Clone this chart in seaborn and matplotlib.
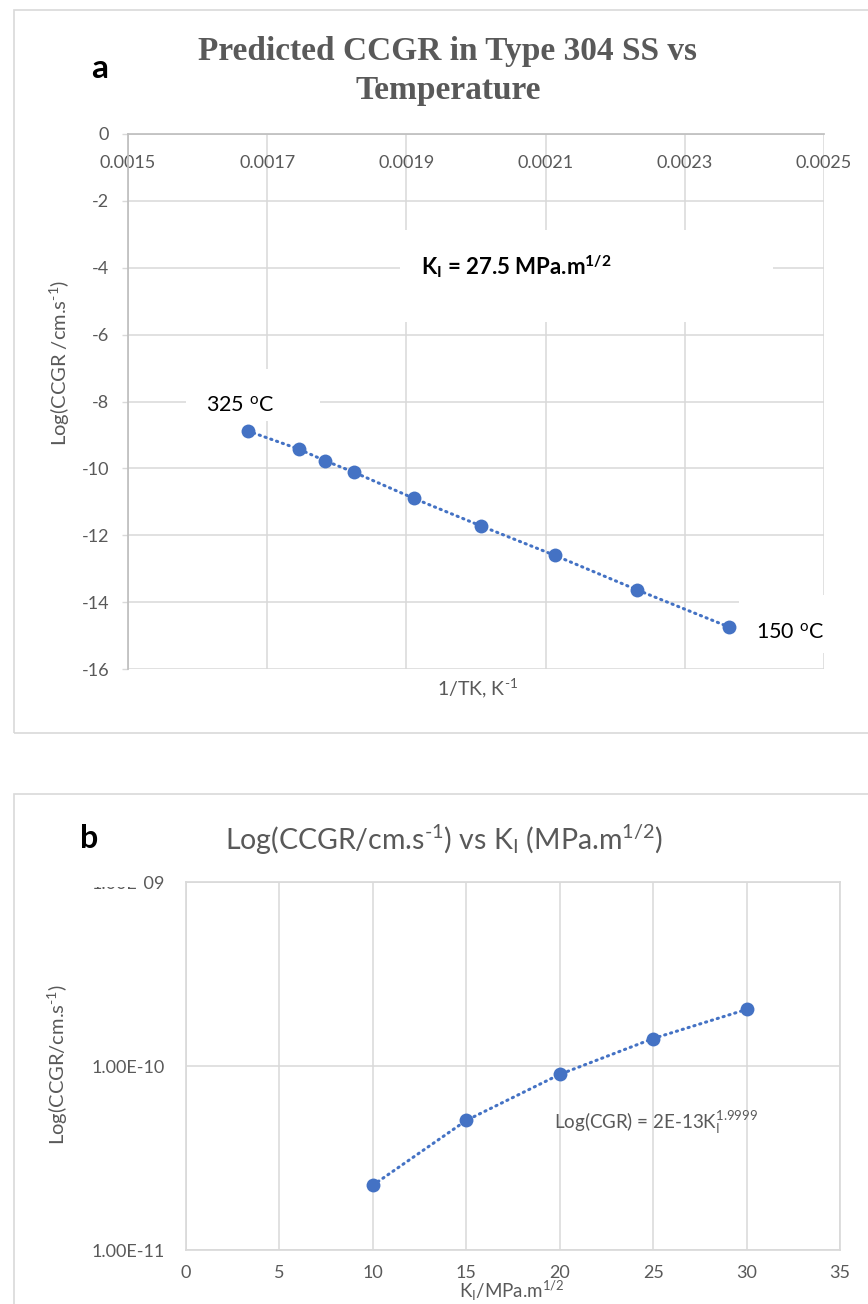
import matplotlib
matplotlib.use("Agg")
import matplotlib.pyplot as plt
import seaborn as sns
from matplotlib.patches import Rectangle
from matplotlib.ticker import FixedLocator, FixedFormatter, NullLocator

# ---- data -------------------------------------------------------------
# (a) predicted CCGR in type 304 SS against reciprocal temperature
inv_temp = [0.001672, 0.001745, 0.001783, 0.001824, 0.001911,
            0.002007, 0.002113, 0.002231, 0.002363]
log_ccgr = [-8.88, -9.42, -9.77, -10.11, -10.90,
            -11.72, -12.60, -13.63, -14.74]
end_labels = ["325 $^{\\mathregular{o}}$C", "150 $^{\\mathregular{o}}$C"]
a_xticks = [0.0015, 0.0017, 0.0019, 0.0021, 0.0023, 0.0025]
a_xticklabels = ["0.0015", "0.0017", "0.0019", "0.0021", "0.0023", "0.0025"]
a_yticks = [0, -2, -4, -6, -8, -10, -12, -14, -16]

# (b) CCGR against stress intensity factor
k_i = [10, 15, 20, 25, 30]
ccgr = [2.25e-11, 5.06e-11, 9.0e-11, 1.41e-10, 2.03e-10]
b_xticks = [0, 5, 10, 15, 20, 25, 30, 35]
b_yticks = [1e-11, 1e-10, 1e-9]
b_yticklabels = ["1.00E-11", "1.00E-10", "1.00E-09"]

# ---- style ------------------------------------------------------------
sns.set_theme(style="white")
plt.rcParams["font.family"] = ["Lato", "DejaVu Sans"]
plt.rcParams["mathtext.fontset"] = "custom"
plt.rcParams["mathtext.rm"] = "Lato"
plt.rcParams["mathtext.it"] = "Lato:italic"
plt.rcParams["mathtext.bf"] = "Lato:bold"
plt.rcParams["axes.unicode_minus"] = False

BLUE = "#4472C4"
GRID = "#d9d9d9"
AXIS = "#bfbfbf"
TXT = "#595959"
TICK_FS = 13

W, H = 868, 1304
fig = plt.figure(figsize=(W / 100, H / 100), dpi=100)
fig.patch.set_facecolor("white")


def fx(px):
    return px / W


def fy(py):
    return 1 - py / H


# chart frames
for top, bottom in [(10, 733), (794, 1320)]:
    fig.patches.append(Rectangle((fx(14), fy(bottom)), fx(870) - fx(14),
                                 fy(top) - fy(bottom), transform=fig.transFigure,
                                 fill=False, edgecolor=GRID, linewidth=1.2, zorder=0))

SUP_M1 = "$^{\\text{-1}}$"

# ---- panel a ------------------------------------------------------------
ax = fig.add_axes([fx(128), fy(669), (824 - 128) / W, (669 - 134) / H])
ax.set_xlim(0.0015, 0.0025)
ax.set_ylim(-16, 0)
sns.lineplot(x=inv_temp, y=log_ccgr, ax=ax, color=BLUE, linewidth=2.2,
             linestyle=(0, (0.4, 1.6)), dash_capstyle="round", sort=False, zorder=2)
sns.scatterplot(x=inv_temp, y=log_ccgr, ax=ax, color=BLUE, s=100,
                linewidth=0, zorder=3)

ax.set_xticks(a_xticks)
ax.set_xticklabels(a_xticklabels)
ax.set_yticks(a_yticks)
ax.set_yticklabels([str(v) for v in a_yticks])
ax.grid(True, color=GRID, linewidth=1.1)
ax.set_axisbelow(True)
for s in ["top", "right"]:
    ax.spines[s].set_visible(False)
ax.spines["bottom"].set_position(("data", 0))
ax.spines["bottom"].set_color(AXIS)
ax.spines["left"].set_color(AXIS)
ax.tick_params(axis="x", length=0, pad=15, labelsize=TICK_FS, labelcolor=TXT)
ax.tick_params(axis="y", length=4.5, width=1, color=GRID, pad=9,
               labelsize=TICK_FS, labelcolor=TXT, left=True)
ax.set_xlabel("")
ax.set_ylabel("")

# label backgrounds that hide the grid behind them
for x0, y0, x1, y1 in [(400, 230, 773, 322), (186, 369, 320, 421), (739, 595, 840, 653)]:
    ax.add_patch(Rectangle((fx(x0), fy(y1)), fx(x1) - fx(x0), fy(y0) - fy(y1),
                           transform=fig.transFigure, facecolor="white",
                           edgecolor="none", zorder=1.5, clip_on=False))

ax.text(0.0020573, -3.95, "K$_{\\mathbf{I}}$ = 27.5 MPa.m$^{\\mathbf{1/2}}$",
        fontsize=16, fontweight="bold", color="black", ha="center", va="center", zorder=4)
ax.text(0.0016605, -8.12, end_labels[0], fontsize=15.5, color="black",
        ha="center", va="center", zorder=4)
ax.text(0.002451, -14.9, end_labels[1], fontsize=15.5, color="black",
        ha="center", va="center", zorder=4, clip_on=False)

fig.text(fx(448), fy(71), "Predicted CCGR in Type 304 SS vs\nTemperature",
         family="Liberation Serif", fontweight="bold", fontsize=24, color=TXT,
         ha="center", va="center", linespacing=1.3)
fig.text(fx(100), fy(68), "a", fontsize=24, fontweight="bold", color="black",
         ha="center", va="center")
fig.text(fx(60), fy(363), "Log(CCGR /cm.s" + SUP_M1 + ")", rotation=90,
         fontsize=14.5, color=TXT, ha="center", va="center")
fig.text(fx(478), fy(688), "1/TK, K" + SUP_M1, fontsize=14,
         color=TXT, ha="center", va="center")

# ---- panel b ------------------------------------------------------------
bx = fig.add_axes([fx(186), fy(1250), (840 - 186) / W, (1250 - 882) / H])
bx.set_yscale("log")
bx.set_xlim(0, 35)
bx.set_ylim(1e-11, 1e-9)
sns.lineplot(x=k_i, y=ccgr, ax=bx, color=BLUE, linewidth=2.2,
             linestyle=(0, (0.4, 1.6)), dash_capstyle="round", sort=False, zorder=2)
sns.scatterplot(x=k_i, y=ccgr, ax=bx, color=BLUE, s=100, linewidth=0, zorder=3)

bx.set_xticks(b_xticks)
bx.set_xticklabels([str(v) for v in b_xticks])
bx.yaxis.set_major_locator(FixedLocator(b_yticks))
bx.yaxis.set_major_formatter(FixedFormatter(b_yticklabels))
bx.yaxis.set_minor_locator(NullLocator())
bx.grid(True, which="major", color=GRID, linewidth=1.1)
bx.set_axisbelow(True)
for s in bx.spines.values():
    s.set_color(GRID)
bx.tick_params(axis="both", length=0, labelsize=TICK_FS, labelcolor=TXT)
bx.tick_params(axis="x", pad=11)
bx.tick_params(axis="y", pad=15)
bx.set_xlabel("")
bx.set_ylabel("")

bx.text(0.563, 0.345, "Log(CGR) = 2E-13K$_{\\mathregular{I}}^{\\mathregular{1.9999}}$",
        transform=bx.transAxes, fontsize=13.5, color=TXT, ha="left", va="center")

# the top tick label is partly hidden behind the title area
fig.patches.append(Rectangle((fx(80), fy(887)), fx(143) - fx(80), fy(858) - fy(887),
                             transform=fig.transFigure, facecolor="white",
                             edgecolor="none", zorder=5))

fig.text(fx(444), fy(840),
         "Log(CCGR/cm.s" + SUP_M1 + ") vs K$_{\\mathregular{I}}$ (MPa.m$^{\\mathregular{1/2}}$)",
         fontsize=20.5, color=TXT, ha="center", va="center")
fig.text(fx(89), fy(838), "b", fontsize=23, fontweight="bold", color="black",
         ha="center", va="center")
fig.text(fx(58), fy(1065), "Log(CCGR/cm.s" + SUP_M1 + ")", rotation=90,
         fontsize=14.5, color=TXT, ha="center", va="center")
fig.text(fx(512), fy(1291), "K$_{\\mathregular{I}}$/MPa.m$^{\\mathregular{1/2}}$",
         fontsize=13.5, color=TXT, ha="center", va="center")

fig.savefig("out.png", dpi=100, facecolor="white")
